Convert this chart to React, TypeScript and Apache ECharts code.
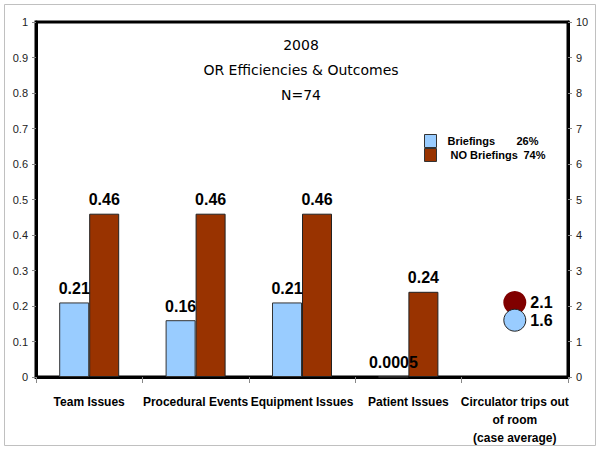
import React, { useEffect, useRef } from "react";
import * as echarts from "echarts";

const categories = [
  "Team Issues",
  "Procedural Events",
  "Equipment Issues",
  "Patient Issues",
  "Circulator trips out\nof room\n(case average)",
];
const briefings = [0.21, 0.16, 0.21, 0.0005, null];
const noBriefings = [0.46, 0.46, 0.46, 0.24, null];
const tripsNoBriefings = [null, null, null, null, 2.1];
const tripsBriefings = [null, null, null, null, 1.6];
const titleLines = ["2008", "OR Efficiencies & Outcomes", "N=74"];

const BLUE = "#99CCFF";
const BROWN = "#993300";
const MAROON = "#800000";

export default function App() {
  const ref = useRef<HTMLDivElement>(null);
  useEffect(() => {
    const chart = echarts.init(ref.current!, null, { renderer: "svg" });
    const barLabel = {
      show: true,
      position: "top",
      fontFamily: "Arial, Liberation Sans",
      fontWeight: "bold",
      fontSize: 16,
      color: "#000",
      distance: 6,
    };
    const axisLabel = {
      fontFamily: "Arial, Liberation Sans",
      fontSize: 11,
      color: "#222",
    };
    const legFont = { fontFamily: "Arial, Liberation Sans", fontWeight: "bold", fontSize: 11, lineHeight: 13, color: "#000" };
    chart.setOption({
      animation: false,
      backgroundColor: "#fff",
      grid: {
        left: 36,
        right: 32,
        top: 22,
        bottom: 73,
        show: true,
        borderColor: "#000",
        borderWidth: 3,
        containLabel: false,
      },
      graphic: [
        {
          type: "rect",
          shape: { x: 4.5, y: 4.5, width: 591, height: 441 },
          style: { fill: "none", stroke: "#c0c0c0", lineWidth: 1 },
          z: -1,
        },
        ...titleLines.map((t, i) => ({
          type: "text",
          x: 301,
          y: 45 + i * 25,
          style: {
            text: t,
            fontFamily: "DejaVu Sans",
            fontSize: 14,
            fill: "#000",
            textAlign: "center",
            textVerticalAlign: "middle",
          },
        })),
      ],
      legend: {
        left: 424,
        top: 134,
        padding: 0,
        orient: "vertical",
        icon: "rect",
        itemWidth: 12,
        itemHeight: 13,
        itemGap: 0,
        data: [
          { name: "Briefings", itemStyle: { color: BLUE, borderColor: "#333", borderWidth: 1 } },
          { name: "NO Briefings", itemStyle: { color: BROWN, borderColor: "#333", borderWidth: 1 } },
        ],
        formatter: (name: string) =>
          name === "Briefings" ? "{a|Briefings}{b|26%}" : "{c| NO Briefings}{d|74%}",
        textStyle: {
          ...legFont,
          padding: [0, 0, 0, 6],
          rich: {
            a: { ...legFont, width: 69 },
            b: { ...legFont },
            c: { ...legFont, width: 76 },
            d: { ...legFont },
          },
        },
      },
      xAxis: {
        type: "category",
        data: categories,
        axisLine: { show: true, lineStyle: { color: "#000", width: 3 } },
        axisTick: { show: true, length: 6, lineStyle: { color: "#888" } },
        axisLabel: {
          interval: 0,
          margin: 16,
          fontFamily: "Arial, Liberation Sans",
          fontWeight: "bold",
          fontSize: 12,
          color: "#000",
          lineHeight: 18,
        },
        splitLine: { show: false },
      },
      yAxis: [
        {
          type: "value",
          min: 0,
          max: 1,
          interval: 0.1,
          axisLine: { show: true, lineStyle: { color: "#000", width: 3 } },
          axisTick: { show: true, length: 4, lineStyle: { color: "#888" } },
          axisLabel: { ...axisLabel, margin: 8 },
          splitLine: { show: false },
        },
        {
          type: "value",
          min: 0,
          max: 10,
          interval: 1,
          position: "right",
          axisLine: { show: true, lineStyle: { color: "#000", width: 3 } },
          axisTick: { show: true, length: 4, lineStyle: { color: "#888" } },
          axisLabel: { ...axisLabel, margin: 8 },
          splitLine: { show: false },
        },
      ],
      series: [
        {
          name: "Briefings",
          type: "bar",
          data: briefings,
          barWidth: 30,
          barGap: "0%",
          itemStyle: { color: BLUE, borderColor: "#333", borderWidth: 1 },
          label: barLabel,
        },
        {
          name: "NO Briefings",
          type: "bar",
          data: noBriefings,
          barWidth: 30,
          barGap: "0%",
          itemStyle: { color: BROWN, borderColor: "#222", borderWidth: 1 },
          label: barLabel,
        },
        {
          name: "trips NO",
          type: "scatter",
          yAxisIndex: 1,
          data: tripsNoBriefings,
          symbolSize: 23,
          itemStyle: { color: MAROON, opacity: 1 },
          label: { ...barLabel, position: "right", distance: 4 },
          z: 3,
        },
        {
          name: "trips B",
          type: "scatter",
          yAxisIndex: 1,
          data: tripsBriefings,
          symbolSize: 22,
          itemStyle: { color: BLUE, borderColor: "#222", borderWidth: 1, opacity: 1 },
          label: { ...barLabel, position: "right", distance: 4 },
          z: 4,
        },
      ],
    });
    return () => chart.dispose();
  }, []);
  return (
    <div
      ref={ref}
      style={{ position: "absolute", left: 0, top: 0, width: 600, height: 450 }}
    />
  );
}
